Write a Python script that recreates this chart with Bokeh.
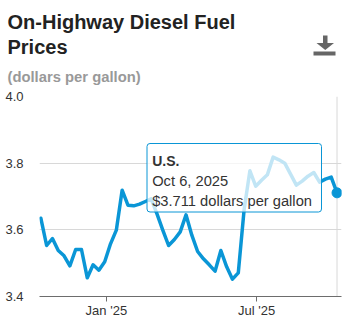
from datetime import timedelta
import pandas as pd
from bokeh.plotting import figure
from bokeh.layouts import column
from bokeh.models import (Range1d, FixedTicker, Span, BoxAnnotation, Label,
                          PolyAnnotation, ColumnDataSource)
from bokeh.embed import file_html
from bokeh.resources import INLINE

# ---------------- data ----------------
title_lines = ["On-Highway Diesel Fuel", "Prices"]
subtitle = "(dollars per gallon)"
series_name = "U.S."
unit_text = "dollars per gallon"
first_week = "2024-10-14"
prices = [3.635, 3.553, 3.574, 3.538, 3.522, 3.492, 3.541, 3.541, 3.456, 3.495,
          3.479, 3.504, 3.558, 3.599, 3.719, 3.674, 3.672, 3.677, 3.685, 3.693,
          3.648, 3.599, 3.553, 3.571, 3.594, 3.645, 3.584, 3.535, 3.513, 3.495,
          3.476, 3.538, 3.489, 3.452, 3.471, 3.660, 3.777, 3.731, 3.749, 3.765,
          3.818, 3.810, 3.800, 3.767, 3.734, 3.746, 3.761, 3.772, 3.743, 3.752,
          3.758, 3.711]
x_tick_dates = ["2025-01-01", "2025-07-01"]
x_tick_labels = ["Jan '25", "Jul '25"]
y_ticks = [3.4, 3.6, 3.8, 4.0]
y_tick_labels = ["3.4", "3.6", "3.8", "4.0"]

dates = pd.date_range(first_week, periods=len(prices), freq="7D")
src = ColumnDataSource(dict(date=dates, price=prices))

BLUE = "#0a96d6"
TXT = "#333333"
FONT = "Liberation Sans"
W = 349


def ms(ts):
    return pd.Timestamp(ts).value / 1e6


def screen_box(fig_h, left, right, top, bottom, **kw):
    """Box given in canvas pixels of a figure whose frame fills it."""
    return BoxAnnotation(left=left, right=right, top=fig_h - top, bottom=fig_h - bottom,
                         left_units="screen", right_units="screen",
                         top_units="screen", bottom_units="screen", **kw)


def bare_figure(h):
    f = figure(width=W, height=h, output_backend="svg", toolbar_location=None,
               x_axis_location=None, y_axis_location=None,
               min_border=0, min_border_left=0, min_border_right=0,
               min_border_top=0, min_border_bottom=0,
               x_range=Range1d(0, 1), y_range=Range1d(0, 1))
    f.frame_align = False
    f.outline_line_color = None
    f.xgrid.visible = False
    f.ygrid.visible = False
    return f


# ---------------- header (titles + download icon) ----------------
HH = 86
head = bare_figure(HH)
for txt, base in zip(title_lines, [21, 46]):
    head.add_layout(Label(x=7, y=HH - base, x_units="screen", y_units="screen",
                          text=txt, text_font=FONT, text_font_style="bold",
                          text_font_size="20px", text_color="#222222",
                          text_baseline="alphabetic", text_align="left"))
head.add_layout(Label(x=7, y=HH - 76, x_units="screen", y_units="screen",
                      text=subtitle, text_font=FONT, text_font_style="bold",
                      text_font_size="14.8px", text_color="#999999",
                      text_baseline="alphabetic", text_align="left"))
ICON = "#666666"
head.add_layout(screen_box(HH, 322.5, 327, 35, 43, fill_color=ICON, fill_alpha=1,
                           line_color=None))
head.add_layout(PolyAnnotation(xs=[316, 333.5, 324.75], ys=[HH - 42.5, HH - 42.5, HH - 49.5],
                               xs_units="screen", ys_units="screen",
                               fill_color=ICON, fill_alpha=1, line_color=None))
head.add_layout(screen_box(HH, 313, 335, 51, 55, fill_color=ICON, fill_alpha=1,
                           line_color=None))

# ---------------- chart ----------------
L, R = 39, 341           # frame left/right (px)
TOP, FH = 10, 200        # border above frame, frame height
CH = 236                 # chart figure height
x_start = dates[0] - timedelta(days=1.6)
x_end = dates[-1] + timedelta(days=5.4)

p = figure(width=W, height=CH, x_axis_type="datetime", output_backend="svg",
           toolbar_location=None,
           x_range=Range1d(x_start, x_end), y_range=Range1d(y_ticks[0], y_ticks[-1]),
           min_border_left=L, min_border_right=W - R,
           min_border_top=TOP, min_border_bottom=CH - TOP - FH)
p.frame_align = False
p.outline_line_color = None

p.xaxis.ticker = FixedTicker(ticks=[ms(d) for d in x_tick_dates])
p.xaxis.major_label_overrides = {ms(d): lab for d, lab in zip(x_tick_dates, x_tick_labels)}
p.xaxis.axis_line_color = "#6d6d6d"
p.xaxis.major_tick_line_color = "#6d6d6d"
p.xaxis.major_tick_in = 0
p.xaxis.major_tick_out = 5
p.xaxis.minor_tick_line_color = None
p.xaxis.major_label_standoff = 1
p.xaxis.major_label_text_font = FONT
p.xaxis.major_label_text_font_size = "13px"
p.xaxis.major_label_text_color = TXT

p.yaxis.ticker = FixedTicker(ticks=y_ticks)
p.yaxis.major_label_overrides = {t: lab for t, lab in zip(y_ticks, y_tick_labels)}
p.yaxis.axis_line_color = None
p.yaxis.major_tick_line_color = None
p.yaxis.minor_tick_line_color = None
p.yaxis.major_label_standoff = 10
p.yaxis.major_label_text_font = FONT
p.yaxis.major_label_text_font_size = "13px"
p.yaxis.major_label_text_color = TXT

p.xgrid.visible = False
p.ygrid.grid_line_color = "#d8d8d8"

p.add_layout(Span(location=ms(dates[-1]), dimension="height",
                  line_color="#d8d8d8", line_width=1, level="underlay"))

p.line(x="date", y="price", source=src, line_color=BLUE, line_width=3.5,
       line_join="round", line_cap="round")
p.scatter(x=[dates[-1]], y=[prices[-1]], size=10, fill_color=BLUE,
          line_color=BLUE, line_width=1)

# tooltip (frame-relative screen units: x from frame left, y up from frame bottom)
FB = TOP + FH


def fx(cx):
    return cx - L


def fy(cy):
    return FB - (cy - HH)


p.add_layout(BoxAnnotation(left=fx(146.5), right=fx(321), top=fy(143), bottom=fy(211.5),
                           left_units="screen", right_units="screen",
                           top_units="screen", bottom_units="screen",
                           fill_color="white", fill_alpha=0.75,
                           line_color=BLUE, line_width=1, line_alpha=1,
                           border_radius=3, level="overlay"))
last = dates[-1]
tip_lines = [(series_name, "bold", "14px", 160.5),
             (f"{last:%b} {last.day}, {last.year}", "normal", "14.7px", 180.5),
             (f"${prices[-1]:.3f} {unit_text}", "normal", "14.7px", 200.5)]
for txt, style, size, base in tip_lines:
    p.add_layout(Label(x=fx(151.7), y=fy(base), x_units="screen", y_units="screen",
                       text=txt, text_font=FONT, text_font_style=style,
                       text_font_size=size, text_color=TXT,
                       text_baseline="alphabetic", text_align="left", level="overlay"))

# ---------------- footer separator ----------------
FH2 = 2
foot = bare_figure(FH2)
foot.add_layout(screen_box(FH2, 16, 340, 0, 1, fill_color="#e6e6e6", fill_alpha=1,
                           line_color=None))

layout = column(head, p, foot, spacing=0)
open("out.html", "w").write(file_html(layout, INLINE))
